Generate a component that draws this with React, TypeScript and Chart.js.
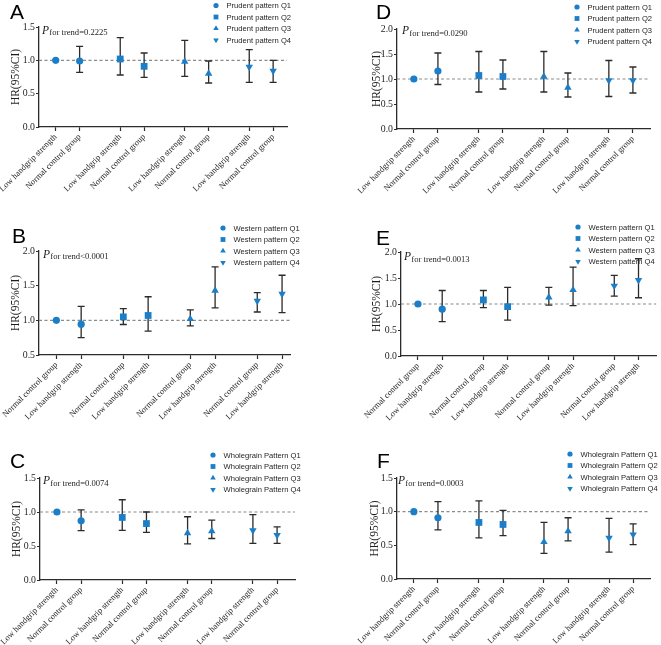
import React, { useEffect, useRef } from 'react';
import { Chart, registerables } from 'chart.js';
import { drawPoint } from 'chart.js/helpers';

Chart.register(...registerables);

// ---------- data ----------
const LHS = 'Low handgrip strength';
const NCG = 'Normal control group';

const labelsLN = [LHS, NCG, LHS, NCG, LHS, NCG, LHS, NCG];
const labelsNL = [NCG, LHS, NCG, LHS, NCG, LHS, NCG, LHS];

const prudentSeries = ['Prudent pattern Q1', 'Prudent pattern Q2', 'Prudent pattern Q3', 'Prudent pattern Q4'];
const westernSeries = ['Western pattern Q1', 'Western pattern Q2', 'Western pattern Q3', 'Western pattern Q4'];
const wholegrainSeries = ['Wholegrain Pattern Q1', 'Wholegrain Pattern Q2', 'Wholegrain Pattern Q3', 'Wholegrain Pattern Q4'];

const yTicks15 = [0, 0.5, 1.0, 1.5];
const yTicks20 = [0, 0.5, 1.0, 1.5, 2.0];
const yTicks0520 = [0.5, 1.0, 1.5, 2.0];

// Panel A
const aHR = [1.0, 0.99, 1.02, 0.91, 0.98, 0.8, 0.9, 0.84];
const aLow = [null, 0.82, 0.78, 0.745, 0.76, 0.66, 0.67, 0.67];
const aHigh = [null, 1.21, 1.34, 1.11, 1.3, 0.99, 1.16, 1.0];
const aP = 'for trend=0.2225';

// Panel B
const bHR = [1.0, 0.945, 1.05, 1.07, 1.02, 1.43, 1.28, 1.38];
const bLow = [null, 0.75, 0.94, 0.845, 0.92, 1.18, 1.12, 1.11];
const bHigh = [null, 1.2, 1.17, 1.34, 1.15, 1.77, 1.4, 1.65];
const bP = 'for trend<0.0001';

// Panel C
const cHR = [1.0, 0.87, 0.92, 0.83, 0.69, 0.72, 0.73, 0.66];
const cLow = [null, 0.725, 0.73, 0.7, 0.53, 0.61, 0.54, 0.54];
const cHigh = [null, 1.03, 1.18, 1.0, 0.93, 0.88, 0.96, 0.78];
const cP = 'for trend=0.0074';

// Panel D
const dHR = [1.0, 1.16, 1.07, 1.05, 1.05, 0.83, 0.97, 0.97];
const dLow = [null, 0.89, 0.74, 0.8, 0.74, 0.64, 0.65, 0.72];
const dHigh = [null, 1.52, 1.55, 1.38, 1.55, 1.12, 1.37, 1.24];
const dP = 'for trend=0.0290';

// Panel E
const eHR = [1.0, 0.9, 1.08, 0.95, 1.13, 1.27, 1.35, 1.46];
const eLow = [null, 0.66, 0.93, 0.69, 0.98, 0.97, 1.15, 1.12];
const eHigh = [null, 1.26, 1.26, 1.32, 1.32, 1.71, 1.55, 1.87];
const eP = 'for trend=0.0013';

// Panel F
const fHR = [1.0, 0.91, 0.84, 0.81, 0.55, 0.71, 0.61, 0.66];
const fLow = [null, 0.73, 0.61, 0.645, 0.38, 0.565, 0.4, 0.51];
const fHigh = [null, 1.15, 1.16, 1.02, 0.84, 0.91, 0.9, 0.82];
const fP = 'for trend=0.0003';

const REF_HR = 1.0;

// ---------- styles ----------
const BLUE = '#1a7fc8';
const DARK = '#2b2b2b';
const TEXT = '#1e1e1e';
const SERIF = '"Liberation Serif", "Times New Roman", serif';
const SANS = '"Liberation Sans", Arial, sans-serif';
const GROUP_GAP = 2.7;
const STYLES = ['circle', 'rect', 'triangle', 'triangle'];
const ROT = [0, 0, 0, 180];
const RADII = [3.6, 4.8, 4.3, 4.3];
const LEG_RADII = [2.6, 3.4, 3.2, 3.2];

type Geo = {
  left: number; top: number; right: number; bottom: number;
  titleX: number; letterX: number; letterBase: number;
  legendX: number; legendY: number; pX: number; pBase: number; xMax: number;
};

type PanelProps = {
  px: number; py: number; w: number; h: number; letter: string;
  series: string[]; labels: string[]; hr: number[]; low: (number | null)[]; high: (number | null)[];
  yTicks: number[]; pText: string; geo: Geo;
};

function Panel(props: PanelProps) {
  const ref = useRef<HTMLCanvasElement | null>(null);
  useEffect(() => {
    const { w, h, letter, series, labels, hr, low, high, yTicks, pText, geo } = props;
    const xs = labels.map((_, i) => Math.floor(i / 2) * GROUP_GAP + (i % 2));
    const datasets = series.map((name, q) => ({
      label: name,
      data: [0, 1].map((k) => ({ x: xs[2 * q + k], y: hr[2 * q + k] })),
      pointStyle: STYLES[q],
      pointRotation: ROT[q],
      pointRadius: RADII[q],
      pointHoverRadius: RADII[q],
      backgroundColor: BLUE,
      borderColor: BLUE,
      borderWidth: 0,
      pointBorderWidth: 0,
      showLine: false,
    }));

    const overlay = {
      id: 'overlay',
      beforeDatasetsDraw(chart: any) {
        const { ctx, chartArea } = chart;
        const xS = chart.scales.x;
        const yS = chart.scales.y;
        ctx.save();
        ctx.strokeStyle = '#8a8a8a';
        ctx.lineWidth = 1.2;
        ctx.setLineDash([3, 2.5]);
        const yr = yS.getPixelForValue(REF_HR);
        ctx.beginPath();
        ctx.moveTo(chartArea.left, yr);
        ctx.lineTo(chartArea.right, yr);
        ctx.stroke();
        ctx.setLineDash([]);
        ctx.strokeStyle = DARK;
        ctx.lineWidth = 1.3;
        for (let i = 0; i < xs.length; i++) {
          const lo = low[i];
          const hi = high[i];
          if (lo == null || hi == null) continue;
          const x = xS.getPixelForValue(xs[i]);
          const y1 = yS.getPixelForValue(lo);
          const y2 = yS.getPixelForValue(hi);
          ctx.beginPath();
          ctx.moveTo(x, y1);
          ctx.lineTo(x, y2);
          ctx.moveTo(x - 3.5, y1);
          ctx.lineTo(x + 3.5, y1);
          ctx.moveTo(x - 3.5, y2);
          ctx.lineTo(x + 3.5, y2);
          ctx.stroke();
        }
        ctx.restore();
      },
      afterDraw(chart: any) {
        const { ctx } = chart;
        ctx.save();
        // panel letter
        ctx.fillStyle = '#000';
        ctx.textBaseline = 'alphabetic';
        ctx.textAlign = 'left';
        ctx.font = `21px ${SANS}`;
        ctx.fillText(letter, geo.letterX, geo.letterBase);
        // P for trend
        ctx.fillStyle = TEXT;
        ctx.font = `italic 11.5px ${SERIF}`;
        ctx.fillText('P', geo.pX, geo.pBase);
        const pw = ctx.measureText('P').width;
        ctx.font = `8.6px ${SERIF}`;
        ctx.fillText(pText, geo.pX + pw + 0.3, geo.pBase + 1.5);
        // legend
        chart.data.datasets.forEach((ds: any, q: number) => {
          const y = geo.legendY + q * 11.5;
          ctx.fillStyle = BLUE;
          ctx.strokeStyle = BLUE;
          drawPoint(ctx, { pointStyle: STYLES[q], rotation: ROT[q], radius: LEG_RADII[q], borderWidth: 0 } as any, geo.legendX, y);
          ctx.fillStyle = TEXT;
          ctx.font = `7.6px ${SANS}`;
          ctx.textBaseline = 'middle';
          ctx.fillText(ds.label, geo.legendX + 10.5, y + 0.5);
        });
        ctx.restore();
      },
    };

    const chart = new Chart(ref.current as HTMLCanvasElement, {
      type: 'scatter',
      data: { datasets: datasets as any },
      plugins: [overlay],
      options: {
        responsive: false,
        animation: false,
        events: [],
        layout: { padding: { left: 0, top: geo.top, right: w - geo.right, bottom: 0 } },
        plugins: { legend: { display: false }, tooltip: { enabled: false } },
        scales: {
          x: {
            type: 'linear',
            min: -0.7,
            max: geo.xMax,
            afterBuildTicks: (s: any) => {
              s.ticks = xs.map((v) => ({ value: v }));
            },
            afterFit: (s: any) => {
              s.height = h - geo.bottom;
              s.paddingLeft = 0;
              s.paddingRight = 0;
            },
            ticks: {
              autoSkip: false,
              minRotation: 45,
              maxRotation: 45,
              padding: 1,
              color: TEXT,
              font: { family: SERIF, size: 8.5 },
              callback: (_v: any, i: number) => labels[i],
            },
            grid: { drawOnChartArea: false, tickLength: 4, tickColor: DARK, tickWidth: 1.2 },
            border: { color: DARK, width: 1.3 },
          },
          y: {
            type: 'linear',
            min: yTicks[0],
            max: yTicks[yTicks.length - 1],
            afterBuildTicks: (s: any) => {
              s.ticks = yTicks.map((v) => ({ value: v }));
            },
            afterFit: (s: any) => {
              s.width = geo.left;
              s.paddingTop = 0;
              s.paddingBottom = 0;
            },
            ticks: {
              padding: 1,
              color: TEXT,
              font: { family: SERIF, size: 9.8 },
              callback: (v: any) => Number(v).toFixed(1),
            },
            grid: { drawOnChartArea: false, tickLength: 3, tickColor: DARK, tickWidth: 1.2 },
            border: { color: DARK, width: 1.3 },
            title: {
              display: true,
              text: 'HR(95%CI)',
              color: TEXT,
              font: { family: SERIF, size: 11.5 },
              padding: { top: geo.titleX - 6.9, bottom: 0 },
            },
          },
        },
      } as any,
    });
    return () => chart.destroy();
  }, []);
  return (
    <canvas
      ref={ref}
      width={props.w}
      height={props.h}
      style={{ position: 'absolute', left: props.px, top: props.py, width: props.w, height: props.h, display: 'block' }}
    />
  );
}

export default function App() {
  return (
    <div style={{ position: 'absolute', left: 0, top: 0, width: 661, height: 645, background: '#fff', overflow: 'hidden' }}>
      <Panel px={0} py={0} w={330} h={215} letter="A" series={prudentSeries} labels={labelsLN}
        hr={aHR} low={aLow} high={aHigh} yTicks={yTicks15} pText={aP}
        geo={{ left: 39, top: 27, right: 287, bottom: 127, titleX: 16, letterX: 10, letterBase: 19, legendX: 216, legendY: 5.5, pX: 42, pBase: 33.5, xMax: 9.68 }} />
      <Panel px={330} py={0} w={331} h={215} letter="D" series={prudentSeries} labels={labelsLN}
        hr={dHR} low={dLow} high={dHigh} yTicks={yTicks20} pText={dP}
        geo={{ left: 67, top: 29, right: 320, bottom: 129, titleX: 47, letterX: 46, letterBase: 19, legendX: 247, legendY: 7, pX: 72, pBase: 34, xMax: 9.81 }} />
      <Panel px={0} py={215} w={330} h={215} letter="B" series={westernSeries} labels={labelsNL}
        hr={bHR} low={bLow} high={bHigh} yTicks={yTicks0520} pText={bP}
        geo={{ left: 39, top: 36, right: 290, bottom: 140, titleX: 16, letterX: 12, letterBase: 28, legendX: 223, legendY: 13, pX: 43, pBase: 42.5, xMax: 9.42 }} />
      <Panel px={330} py={215} w={331} h={215} letter="E" series={westernSeries} labels={labelsNL}
        hr={eHR} low={eLow} high={eHigh} yTicks={yTicks20} pText={eP}
        geo={{ left: 71, top: 37, right: 330, bottom: 141, titleX: 47, letterX: 46, letterBase: 30, legendX: 248, legendY: 12, pX: 74, pBase: 45, xMax: 9.83 }} />
      <Panel px={0} py={430} w={330} h={215} letter="C" series={wholegrainSeries} labels={labelsLN}
        hr={cHR} low={cLow} high={cHigh} yTicks={yTicks15} pText={cP}
        geo={{ left: 40, top: 48, right: 295, bottom: 150, titleX: 17, letterX: 10, letterBase: 38, legendX: 213, legendY: 25, pX: 43, pBase: 54, xMax: 9.84 }} />
      <Panel px={330} py={430} w={331} h={215} letter="F" series={wholegrainSeries} labels={labelsLN}
        hr={fHR} low={fLow} high={fHigh} yTicks={yTicks15} pText={fP}
        geo={{ left: 67, top: 48, right: 320, bottom: 149, titleX: 45, letterX: 47, letterBase: 38, legendX: 240, legendY: 24, pX: 68, pBase: 54, xMax: 9.8 }} />
    </div>
  );
}
